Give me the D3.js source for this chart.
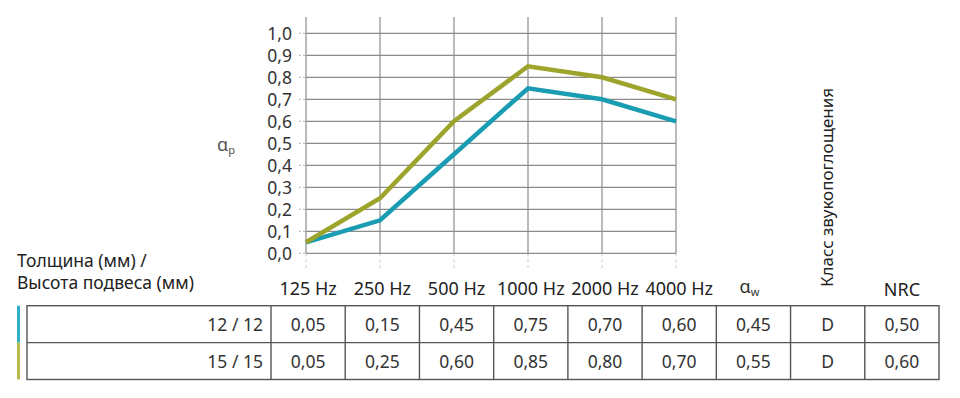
<!DOCTYPE html>
<html>
<head>
    <meta charset="utf-8">
    <script src="https://d3js.org/d3.v7.min.js"></script>
    <style>
        body { margin: 0; background: #fff; }
        text { font-family: "Noto Sans", sans-serif; }
    </style>
</head>
<body>
    <svg width="960" height="398"></svg>
    <script>
        // data
        var freqs = ["125 Hz", "250 Hz", "500 Hz", "1000 Hz", "2000 Hz", "4000 Hz"];
        var yTicks = [0, 0.1, 0.2, 0.3, 0.4, 0.5, 0.6, 0.7, 0.8, 0.9, 1.0];
        var rowLabels = ["12 / 12", "15 / 15"];
        var seriesA = [0.05, 0.15, 0.45, 0.75, 0.70, 0.60];
        var seriesB = [0.05, 0.25, 0.60, 0.85, 0.80, 0.70];
        var alphaW = [0.45, 0.55];
        var soundClass = ["D", "D"];
        var nrc = [0.50, 0.60];
        var colors = ["#1a9db3", "#9ca42b"];
        var barColors = ["#34adc9", "#b8bb4c"];

        var svg = d3.select("svg");
        var fmt = function(v, n) { return v.toFixed(n).replace(".", ","); };

        var x = d3.scalePoint().domain(freqs).range([306, 676]);
        var y = d3.scaleLinear().domain([0, 1]).range([253.3, 33.3]);

        // grid
        var grid = svg.append("g");
        grid.selectAll(".vl").data(freqs).enter().append("line")
            .attr("x1", function(d) { return x(d); }).attr("x2", function(d) { return x(d); })
            .attr("y1", 17).attr("y2", y(0))
            .attr("stroke", "#8c8c8c").attr("stroke-width", 1.2);
        grid.selectAll(".vd").data(freqs).enter().append("line")
            .attr("x1", function(d) { return x(d); }).attr("x2", function(d) { return x(d); })
            .attr("y1", y(0)).attr("y2", 268)
            .attr("stroke", "#c8c8c8").attr("stroke-dasharray", "3,3");
        grid.selectAll(".hl").data(yTicks).enter().append("line")
            .attr("x1", 306).attr("x2", 676)
            .attr("y1", function(d) { return y(d); }).attr("y2", function(d) { return y(d); })
            .attr("stroke", "#8c8c8c").attr("stroke-width", 1.2);
        grid.selectAll(".hd").data(yTicks).enter().append("line")
            .attr("x1", 299).attr("x2", 306)
            .attr("y1", function(d) { return y(d); }).attr("y2", function(d) { return y(d); })
            .attr("stroke", "#b0b0b0").attr("stroke-dasharray", "2,2");
        grid.selectAll(".tl").data(yTicks).enter().append("text")
            .attr("x", 292).attr("y", function(d) { return y(d) + 6.5; })
            .attr("text-anchor", "end").attr("font-size", 17.5).attr("fill", "#333")
            .text(function(d) { return fmt(d, 1); });

        var ap = svg.append("text").attr("x", 217).attr("y", 151).attr("font-size", 18).attr("fill", "#555");
        ap.append("tspan").text("α");
        ap.append("tspan").attr("font-size", 11).attr("dy", 3).text("p");

        // lines
        var line = d3.line()
            .x(function(d, i) { return x(freqs[i]); })
            .y(function(d) { return y(d); });
        [seriesA, seriesB].forEach(function(s, i) {
            svg.append("path").datum(s).attr("d", line)
                .attr("fill", "none").attr("stroke", colors[i]).attr("stroke-width", 4.5);
        });

        // table
        var cols = freqs.concat(["aw", "cls", "nrc"]);
        var cx = d3.scaleBand().domain(cols).range([271, 939]);
        var rowY = d3.scaleBand().domain(rowLabels).range([305.7, 379.5]);
        var t = svg.append("g");

        t.append("text").attr("x", 17).attr("y", 267).attr("font-size", 17.5).attr("fill", "#222").text("Толщина (мм) /");
        t.append("text").attr("x", 17).attr("y", 289).attr("font-size", 17.5).attr("fill", "#222").text("Высота подвеса (мм)");

        t.selectAll(".fh").data(freqs).enter().append("text")
            .attr("x", function(d) { return cx(d) + cx.bandwidth() / 2; })
            .attr("y", 294.5).attr("text-anchor", "middle").attr("font-size", 18).attr("fill", "#222")
            .text(function(d) { return d; });
        var aw = t.append("text").attr("x", cx("aw") + cx.bandwidth() / 2 - 4).attr("y", 293)
            .attr("text-anchor", "middle").attr("font-size", 18).attr("fill", "#333");
        aw.append("tspan").text("α");
        aw.append("tspan").attr("font-size", 11).attr("dy", 3).text("w");
        t.append("text")
            .attr("transform", "translate(" + (cx("cls") + cx.bandwidth() / 2 + 5) + ",287) rotate(-90)")
            .attr("font-size", 17).attr("fill", "#222").text("Класс звукопоглощения");
        t.append("text").attr("x", cx("nrc") + cx.bandwidth() / 2).attr("y", 296)
            .attr("text-anchor", "middle").attr("font-size", 18).attr("fill", "#222").text("NRC");

        // color markers
        rowLabels.forEach(function(r, i) {
            t.append("rect").attr("x", 17).attr("y", rowY(r)).attr("width", 3).attr("height", rowY.bandwidth())
                .attr("fill", barColors[i]);
        });

        // borders
        t.append("rect").attr("x", 27).attr("y", 305.7).attr("width", 939 - 27).attr("height", 379.5 - 305.7)
            .attr("fill", "none").attr("stroke", "#555").attr("stroke-width", 1.4);
        t.append("line").attr("x1", 27).attr("x2", 939).attr("y1", rowY(rowLabels[1])).attr("y2", rowY(rowLabels[1]))
            .attr("stroke", "#555").attr("stroke-width", 1.4);
        t.selectAll(".cb").data(cols).enter().append("line")
            .attr("x1", function(d) { return cx(d); }).attr("x2", function(d) { return cx(d); })
            .attr("y1", 305.7).attr("y2", 379.5).attr("stroke", "#555").attr("stroke-width", 1.4);

        var rows = [seriesA, seriesB].map(function(s, i) {
            return [rowLabels[i]].concat(s.map(function(v) { return fmt(v, 2); }))
                .concat([fmt(alphaW[i], 2), soundClass[i], fmt(nrc[i], 2)]);
        });
        rows.forEach(function(r, i) {
            var yy = rowY(rowLabels[i]) + rowY.bandwidth() / 2 + 6.5;
            t.append("text").attr("x", 263).attr("y", yy).attr("text-anchor", "end")
                .attr("font-size", 17.5).attr("fill", "#333").text(r[0]);
            t.selectAll(null).data(r.slice(1)).enter().append("text")
                .attr("x", function(d, j) { return cx(cols[j]) + cx.bandwidth() / 2; })
                .attr("y", yy).attr("text-anchor", "middle").attr("font-size", 17.5).attr("fill", "#333")
                .text(function(d) { return d; });
        });
    </script>
</body>
</html>
